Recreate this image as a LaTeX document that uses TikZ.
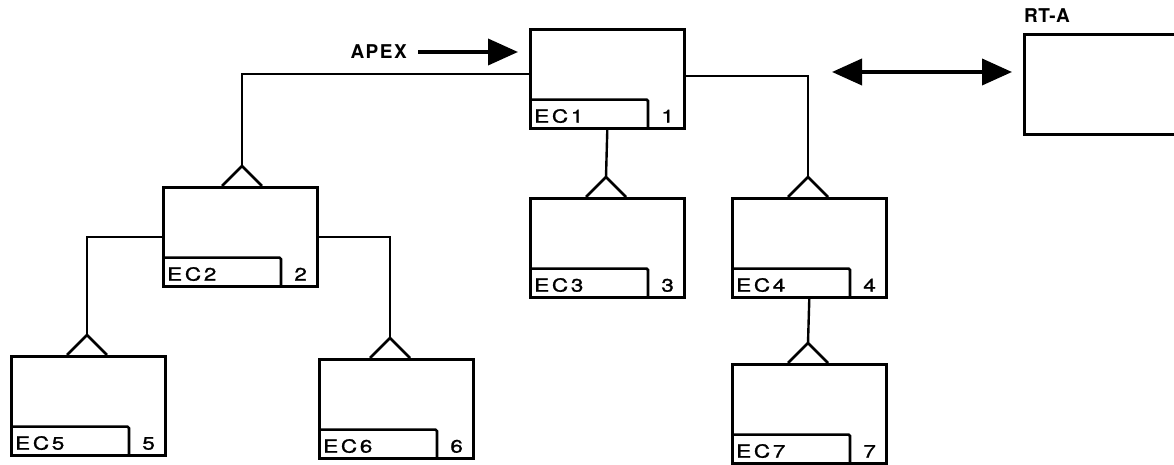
\documentclass[tikz,border=0pt]{standalone}
\usepackage{fontspec}
\setmainfont{TeX Gyre Heros}
\newfontfamily\lblfont[LetterSpace=15,FakeStretch=1.25,FakeBold=1.2]{TeX Gyre Heros}
\newfontfamily\topfont[LetterSpace=8]{TeX Gyre Heros}
\newfontfamily\rtfont[LetterSpace=2]{TeX Gyre Heros}
\usetikzlibrary{arrows.meta,calc}
\begin{document}
\begin{tikzpicture}[x=1pt,y=1pt,
  ecbox/.style={draw,line width=2.6pt,minimum width=154pt,minimum height=99pt,inner sep=0pt,anchor=north west},
  conn/.style={line width=2.4pt},
  tri/.style={line width=2.6pt,line join=miter},
  strip/.style={line width=2.6pt,rounded corners=1.5pt},
  eclabel/.style={anchor=base west,inner sep=0pt,font=\lblfont\fontsize{18}{18}\selectfont},
  numlabel/.style={anchor=base,inner sep=0pt,font=\lblfont\fontsize{18}{18}\selectfont},
  toplabel/.style={inner sep=0pt,font=\topfont\bfseries\fontsize{19}{19}\selectfont},
  rtlabel/.style={inner sep=0pt,font=\rtfont\bfseries\fontsize{19}{19}\selectfont},
  bigarrow/.style={line width=3.8pt,-{Triangle[length=30pt,width=26pt]}},
  dblarrow/.style={line width=3.8pt,{Triangle[length=30pt,width=26pt]}-{Triangle[length=30pt,width=26pt]}}
]
\useasboundingbox (0,0) rectangle (1174,465);
\clip (0,0) rectangle (1174,465);

% boxes
\node[ecbox] (b1) at (529,437) {};
\node[ecbox] (b2) at (162,279) {};
\node[ecbox] (b3) at (529,268) {};
\node[ecbox] (b4) at (731,268) {};
\node[ecbox] (b5) at (10,110) {};
\node[ecbox] (b6) at (318,107) {};
\node[ecbox] (b7) at (731,102) {};
\node[draw,line width=2.6pt,minimum width=200pt,minimum height=100pt,inner sep=0pt,anchor=north west] (rt) at (1023,432) {};

% label strips
\foreach \n in {1,...,7}{
  \draw[strip] ([yshift=30pt]b\n.south west) -| ([xshift=119pt]b\n.south west);
  \node[eclabel] (l\n) at ([xshift=5pt,yshift=7pt]b\n.south west) {EC\n};
  \node[numlabel] (n\n) at ([xshift=-18pt,yshift=7pt]b\n.south east) {\n};
}

% triangle apexes
\coordinate (t2) at (242,299);
\coordinate (t3) at (606,288);
\coordinate (t4) at (808,288);
\coordinate (t5) at (87,130);
\coordinate (t6) at (390,127);
\coordinate (t7) at (808,122);
\foreach \t in {t2,t3,t4,t5,t6,t7}{
  \draw[tri] ($(\t)+(-20,-20)$) -- (\t) -- ($(\t)+(20,-20)$);
}

% connectors
\draw[conn] ([yshift=5pt]b1.west) -| (t2);
\draw[conn] (b1.south) -- (t3);
\draw[conn] ([yshift=3pt]b1.east) -| (t4);
\draw[conn] (b2.west) -| (t5);
\draw[conn] (b2.east) -| (t6);
\draw[conn] (b4.south) -- (t7);

% APEX arrow
\node[toplabel,anchor=east] (apex) at (407,413) {APEX};
\draw[bigarrow] ([xshift=11pt]apex.east) -- ([xshift=-11pt]apex.east -| b1.west);

% RT-A
\node[rtlabel,anchor=base west] (rtl) at ([xshift=1pt,yshift=10pt]rt.north west) {RT-A};
\coordinate (dl) at (832,393);
\draw[dblarrow] (dl) -- ([xshift=-11pt]dl -| rt.west);
\end{tikzpicture}
\end{document}
